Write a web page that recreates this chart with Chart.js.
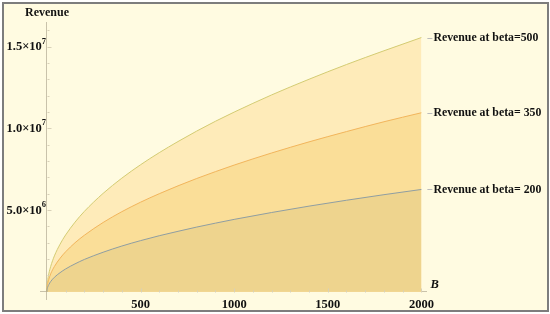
<!DOCTYPE html>
<html>
<head>
<meta charset="utf-8">
<script src="https://cdn.jsdelivr.net/npm/chart.js@4.4.1/dist/chart.umd.min.js"></script>
<style>
  html, body { margin: 0; padding: 0; background: #ffffff; }
  #frame { position: absolute; left: 2px; top: 2px; width: 543px; height: 306px;
           border: 2px solid #7d7d7d; background: #FFFBE1; }
  #wrap { position: absolute; left: 0; top: 0; width: 550px; height: 314px; }
</style>
</head>
<body>
<div id="frame"></div>
<div id="wrap"><canvas id="c" width="550" height="314"></canvas></div>
<script>
// ---- data (revenue in millions) ----
const budget = [0, 1, 5, 10, 20, 40, 70, 100, 150, 200, 300, 400, 500, 600, 700, 800, 900, 1000, 1200, 1400, 1600, 1800, 2000];
const revBeta500 = [0, 0.35, 0.78, 1.10, 1.55, 2.20, 2.91, 3.48, 4.26, 4.92, 6.02, 6.95, 7.77, 8.51, 9.19, 9.83, 10.43, 10.99, 12.04, 13.0, 13.9, 14.74, 15.55];
const revBeta350 = [0, 0.25, 0.55, 0.77, 1.10, 1.55, 2.05, 2.45, 3.0, 3.46, 4.24, 4.9, 5.48, 6.0, 6.48, 6.93, 7.35, 7.75, 8.49, 9.17, 9.8, 10.4, 10.95];
const revBeta200 = [0, 0.14, 0.31, 0.44, 0.63, 0.89, 1.17, 1.40, 1.71, 1.98, 2.42, 2.80, 3.13, 3.43, 3.70, 3.96, 4.2, 4.43, 4.85, 5.24, 5.6, 5.94, 6.26];
const seriesNames = ["Revenue at beta= 200", "Revenue at beta= 350", "Revenue at beta=500"];
const xTicks = [500, 1000, 1500, 2000];
const yTicks = [5, 10, 15];
const yTickMantissa = ["5.0", "1.0", "1.5"];
const yTickExponent = ["6", "7", "7"];

const FONT = "'Liberation Serif', 'Times New Roman', serif";
const AXIS = '#c9c2aa';

const pts = arr => budget.map((b, i) => ({x: b, y: arr[i]}));

const sideLabels = {
  id: 'sideLabels',
  afterDraw(chart) {
    const ctx = chart.ctx, xs = chart.scales.x, ys = chart.scales.y;
    ctx.save();
    // minor / major ticks on axes
    ctx.strokeStyle = '#d8d1b8'; ctx.lineWidth = 1;
    const y0 = Math.round(ys.getPixelForValue(0)) + 0.5;
    const x0 = Math.round(xs.getPixelForValue(0)) + 0.5;
    for (let v = 100; v <= 2000; v += 100) {
      const px = Math.round(xs.getPixelForValue(v)) + 0.5;
      const len = v % 500 === 0 ? 4 : 2;
      ctx.beginPath(); ctx.moveTo(px, y0); ctx.lineTo(px, y0 - len); ctx.stroke();
    }
    for (let v = 1; v <= 16; v += 1) {
      const py = Math.round(ys.getPixelForValue(v)) + 0.5;
      const len = v % 5 === 0 ? 4 : 2;
      ctx.beginPath(); ctx.moveTo(x0, py); ctx.lineTo(x0 + len, py); ctx.stroke();
    }
    ctx.fillStyle = '#111';
    ctx.textBaseline = 'middle';
    // y tick labels with superscript exponent
    yTicks.forEach((v, i) => {
      const py = ys.getPixelForValue(v);
      ctx.font = "bold 8.5px " + FONT;
      ctx.textAlign = 'right';
      const right = 46;
      const ew = ctx.measureText(yTickExponent[i]).width;
      ctx.fillText(yTickExponent[i], right, py - 5);
      ctx.font = "bold 12.5px " + FONT;
      ctx.fillText(yTickMantissa[i] + "\u00d710", right - ew, py + 0.5);
    });
    // series end labels
    ctx.font = "bold 11.8px " + FONT;
    ctx.textAlign = 'left';
    chart.data.datasets.forEach(ds => {
      const last = ds.data[ds.data.length - 1];
      const py = ys.getPixelForValue(last.y);
      const px = xs.getPixelForValue(last.x);
      ctx.strokeStyle = '#bbb';
      ctx.beginPath(); ctx.moveTo(px + 6, Math.round(py) + 0.5); ctx.lineTo(px + 11, Math.round(py) + 0.5); ctx.stroke();
      ctx.fillText(ds.label, px + 12, py + 0.5);
    });
    // axis titles
    ctx.font = "bold 12px " + FONT;
    ctx.fillText("Revenue", 25, 13);
    ctx.font = "italic bold 12.5px " + FONT;
    ctx.fillText("B", xs.getPixelForValue(2000) + 9, y0 - 8);
    ctx.restore();
  }
};

new Chart(document.getElementById('c'), {
  type: 'line',
  data: {
    datasets: [
      { label: seriesNames[0], data: pts(revBeta200), borderColor: '#8f9ea2', backgroundColor: '#EED48E', fill: 'origin' },
      { label: seriesNames[1], data: pts(revBeta350), borderColor: '#f2b55c', backgroundColor: '#FADE98', fill: 'origin' },
      { label: seriesNames[2], data: pts(revBeta500), borderColor: '#d3cb72', backgroundColor: '#FEEBB9', fill: 'origin' }
    ]
  },
  options: {
    responsive: false,
    animation: false,
    events: [],
    layout: { padding: { top: 22, right: 123, left: 0, bottom: 0 } },
    elements: {
      point: { radius: 0 },
      line: { borderWidth: 1, cubicInterpolationMode: 'monotone' }
    },
    plugins: { legend: { display: false }, tooltip: { enabled: false } },
    scales: {
      x: {
        type: 'linear', min: -37, max: 2030,
        afterFit: s => { s.height = 14; },
        afterBuildTicks: s => { s.ticks = [0].concat(xTicks).map(v => ({value: v})); },
        border: { display: false },
        grid: { drawTicks: false, color: c => c.tick && c.tick.value === 0 ? AXIS : 'rgba(0,0,0,0)' },
        ticks: {
          padding: -3, maxRotation: 0, color: '#111',
          font: { family: FONT, weight: 'bold', size: 12.5 },
          callback: v => v === 0 ? '' : String(v)
        }
      },
      y: {
        type: 'linear', min: -0.5, max: 16.5,
        afterFit: s => { s.width = 40; },
        afterBuildTicks: s => { s.ticks = [0].concat(yTicks).map(v => ({value: v})); },
        border: { display: false },
        grid: { drawTicks: false, color: c => c.tick && c.tick.value === 0 ? AXIS : 'rgba(0,0,0,0)' },
        ticks: { display: false }
      }
    }
  },
  plugins: [sideLabels]
});
</script>
</body>
</html>
